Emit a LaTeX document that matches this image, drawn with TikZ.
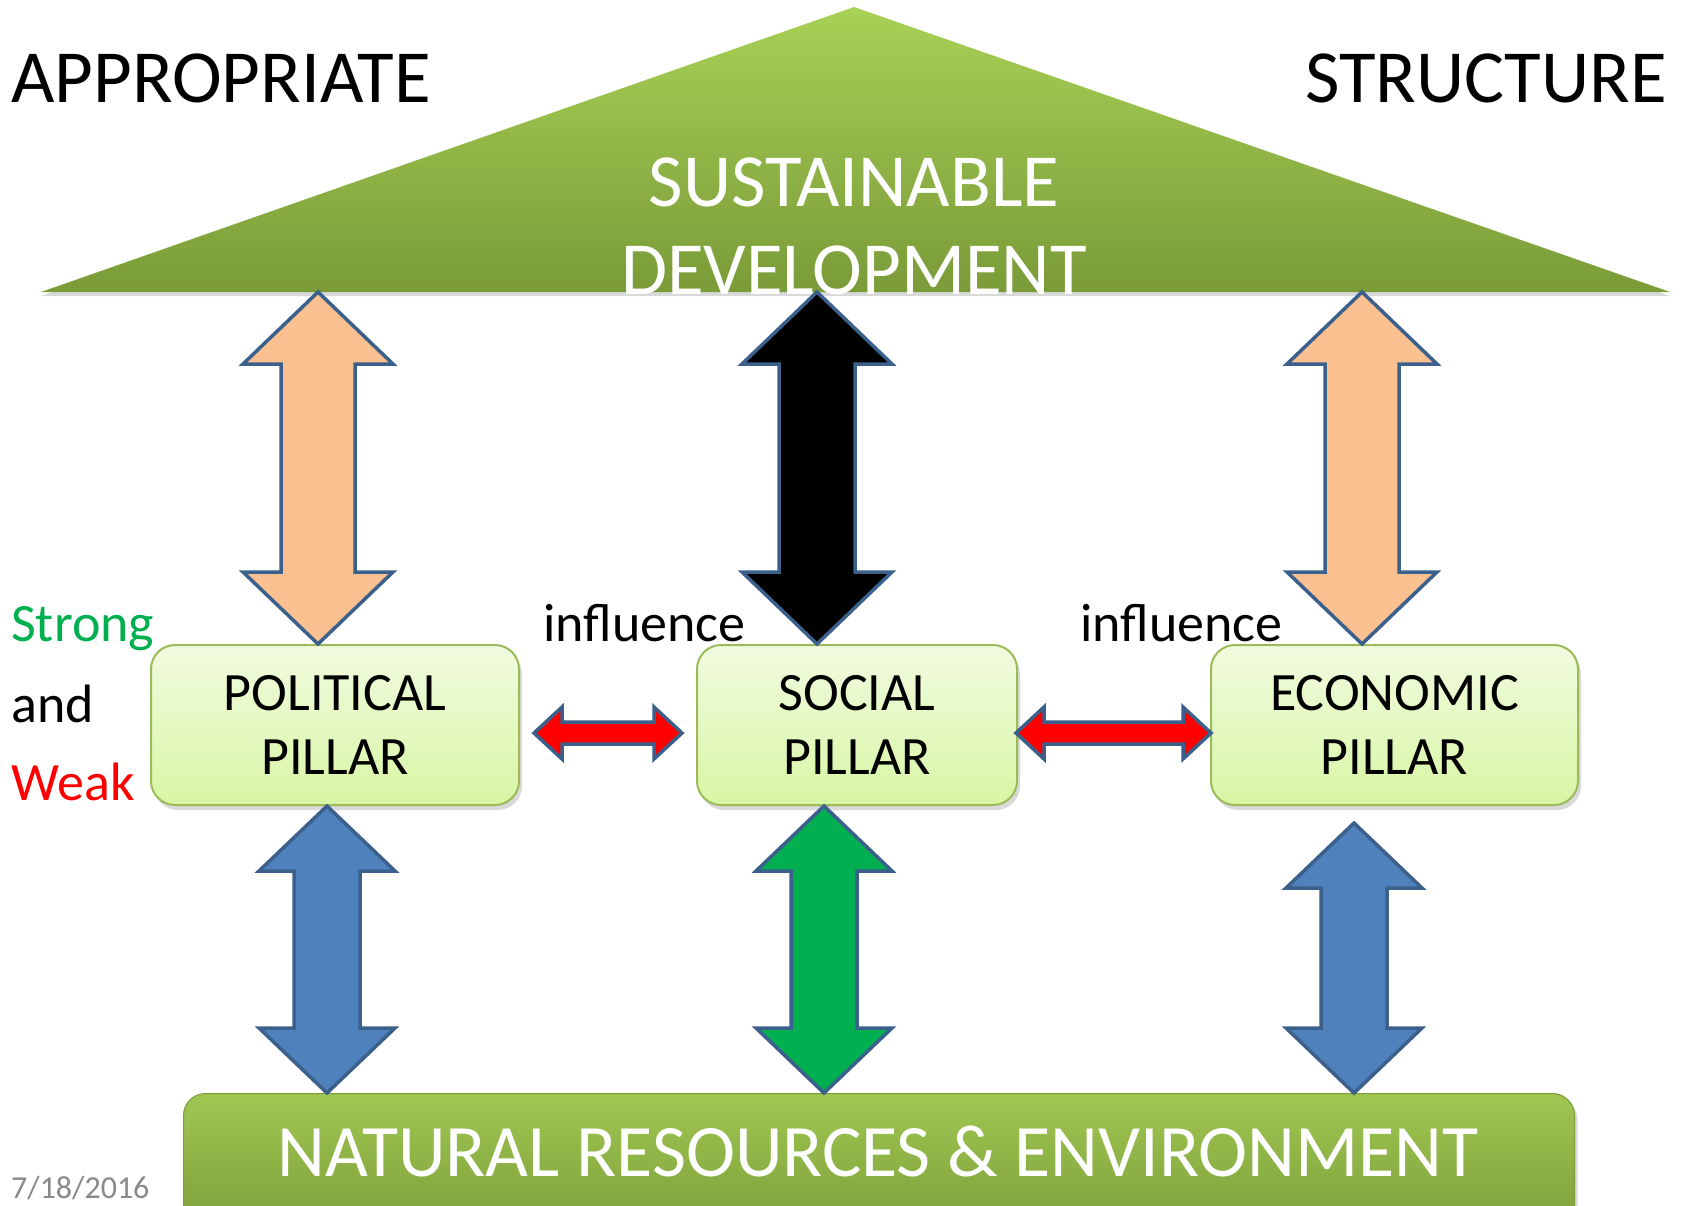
\documentclass[tikz,border=0pt]{standalone}
\usepackage{fontspec}
\setmainfont{Carlito}
\usetikzlibrary{calc}
\usetikzlibrary{positioning}
\usetikzlibrary{shadows}
\definecolor{mpeach}{RGB}{250, 192, 144}
\definecolor{mblue}{RGB}{79, 129, 189}
\definecolor{mgreen}{RGB}{0, 176, 80}
\definecolor{mred}{RGB}{255, 0, 0}
\definecolor{medge}{RGB}{60, 96, 140}
\definecolor{mleaf}{RGB}{155, 187, 89}
\definecolor{mgray}{RGB}{137, 137, 137}
\definecolor{mgrasstop}{RGB}{168, 209, 86}
\definecolor{mgrassbot}{RGB}{122, 155, 56}
\definecolor{mpaletop}{RGB}{241, 251, 224}
\definecolor{mpalebot}{RGB}{216, 246, 164}
\tikzset{
  pillar/.style = {draw = mleaf, line width = 2pt, rounded corners = 24pt,
    top color = mpaletop, bottom color = mpalebot,
    minimum height = 160pt, align = center, inner sep = 0,
    font = \fontsize{54}{64}\selectfont,
    drop shadow = {shadow xshift = 3pt, shadow yshift = -5pt, opacity = 0.3}},
  roof/.style = {top color = mgrasstop, bottom color = mgrassbot,
    drop shadow = {shadow xshift = 0pt, shadow yshift = -4pt, opacity = 0.3}},
  base/.style = {rounded corners = 22pt, top color = mgrasstop!95!black,
    bottom color = mgrassbot, draw = mgrassbot, line width = 1pt,
    drop shadow = {shadow xshift = 3pt, shadow yshift = -4pt, opacity = 0.3}},
  big/.style = {inner sep = 0, font = \fontsize{75}{88}\selectfont},
  side/.style = {inner sep = 0, font = \fontsize{54}{60}\selectfont},
  link/.style = {draw = medge, line width = 3.5pt, line join = miter}
}
% #1 fill, #2 from, #3 to, #4 head length, #5 head half width, #6 shaft half width
\newcommand{\dblarrow}[6]{%
  \path (#2) coordinate (s) (#3) coordinate (e)
    ($(s)!#4!(e)$) coordinate (hs) ($(e)!#4!(s)$) coordinate (he);
  \path[link, #1] (s) -- ($(hs)!#5!90:(e)$) -- ($(hs)!#6!90:(e)$)
    -- ($(he)!#6!-90:(s)$) -- ($(he)!#5!-90:(s)$) -- (e)
    -- ($(he)!#5!90:(s)$) -- ($(he)!#6!90:(s)$)
    -- ($(hs)!#6!-90:(e)$) -- ($(hs)!#5!-90:(e)$) -- cycle;
}

\begin{document}
\begin{tikzpicture}[x = 1pt, y = -1pt]
  \useasboundingbox (0, 0) rectangle (1684, 1205);

  \coordinate (apex) at (854, 7);
  \coordinate (roofL) at (41, 292);
  \coordinate (roofR) at (1670, 292);
  \path[roof] (roofL) -- (apex) -- (roofR) -- cycle;
  \node (sd) [big, text = white, align = center] at (854, 226) {SUSTAINABLE\\DEVELOPMENT};

  \node (appr) [big, anchor = base west] at (11, 102) {APPROPRIATE};
  \node (struc) [big, anchor = base east] at (1667, 102) {STRUCTURE};

  \node (pol) [pillar, minimum width = 368pt] at (335, 725) {POLITICAL\\PILLAR};
  \node (soc) [pillar, minimum width = 320pt, right = 176pt of pol] {SOCIAL\\PILLAR};
  \node (eco) [pillar, minimum width = 367pt, right = 192pt of soc] {ECONOMIC\\PILLAR};

  \node (nat) [base, minimum width = 1391pt, minimum height = 150pt, anchor = north west] at (183, 1093) {};
  \node (natlbl) [inner sep = 0, text = white, anchor = base, font = \fontsize{74}{80}\selectfont]
    at ($(nat.north)+(-1, 83)$) {NATURAL RESOURCES \& ENVIRONMENT};

  \node (strong) [side, text = mgreen, anchor = base west] at (11, 641) {Strong};
  \node (and) [side, anchor = base west] at (11, 722) {and};
  \node (weak) [side, text = mred, anchor = base west] at (11, 800) {Weak};
  \node (infl1) [side, anchor = base west] at (543, 641) {influence};
  \node (infl2) [side, anchor = base west] at (1080, 641) {influence};
  \node (date) [inner sep = 0, text = mgray, anchor = base west, font = \fontsize{32}{36}\selectfont]
    at (11, 1198) {7/18/2016};

  \coordinate (polUp) at ($(pol.north west)+(168, 0)$);
  \coordinate (socUp) at ($(soc.north west)+(121, 0)$);
  \coordinate (ecoUp) at ($(eco.north west)+(152, 0)$);
  \coordinate (polDn) at ($(pol.south west)+(177, 0)$);
  \coordinate (socDn) at ($(soc.south west)+(128, 0)$);
  \coordinate (ecoDn) at ($(eco.south west)+(144, 17)$);

  \dblarrow{fill = mpeach}{polUp |- roofL}{polUp}{72pt}{75pt}{37pt}
  \dblarrow{fill = black}{socUp |- roofL}{socUp}{72pt}{75pt}{38pt}
  \dblarrow{fill = mpeach}{ecoUp |- roofL}{ecoUp}{72pt}{75pt}{37pt}

  \dblarrow{fill = mblue}{polDn}{polDn |- nat.north}{65pt}{68pt}{33pt}
  \dblarrow{fill = mgreen}{socDn}{socDn |- nat.north}{65pt}{68pt}{33pt}
  \dblarrow{fill = mblue}{ecoDn}{ecoDn |- nat.north}{65pt}{68pt}{33pt}

  \coordinate (ps1) at ($(pol.east)+(14, 8)$);
  \coordinate (ps2) at ($(soc.west)+(-14, 8)$);
  \coordinate (se1) at ($(soc.east)+(-2, 8)$);
  \coordinate (se2) at ($(eco.west)+(1, 8)$);
  \dblarrow{fill = mred}{ps1}{ps2}{28pt}{26pt}{11pt}
  \dblarrow{fill = mred}{se1}{se2}{28pt}{26pt}{11pt}
\end{tikzpicture}
\end{document}
